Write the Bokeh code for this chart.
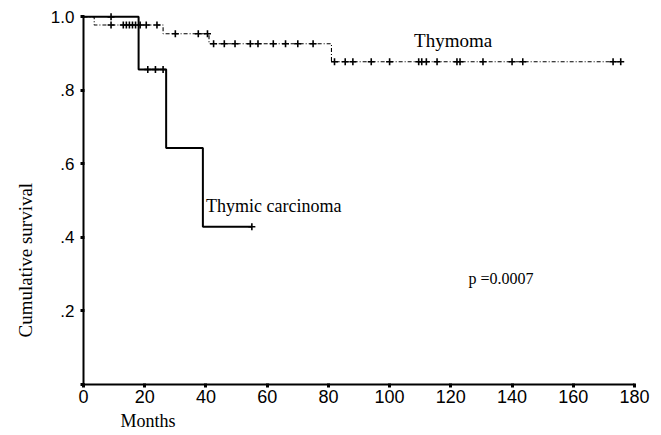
import numpy as np
from bokeh.plotting import figure
from bokeh.models import Label, FixedTicker, Range1d, Title
from bokeh.embed import file_html
from bokeh.resources import INLINE

# Kaplan-Meier curves: step start times (months) and survival level from that time on
carcinoma_t = [0, 18, 27, 39, 55]
carcinoma_s = [1.0, 0.857, 0.643, 0.429, 0.429]
carcinoma_censor_t = [9, 21, 23.5, 26, 55]

thymoma_t = [0, 3.5, 26, 41, 81, 175.5]
thymoma_s = [1.0, 0.978, 0.954, 0.927, 0.878, 0.878]
thymoma_censor_t = [9, 13, 14, 15, 16, 17, 18.5, 20.5, 24,
                    30, 37.5, 40.5,
                    42.5, 46, 49.5, 54.5, 57, 62, 66, 70, 75,
                    82, 85.5, 88, 94, 100, 109.5, 110.5, 112, 115.5,
                    122, 123, 130.5, 140, 143.5, 173, 175.5]

x_ticks = [0, 20, 40, 60, 80, 100, 120, 140, 160, 180]
y_ticks = [0.0, 0.2, 0.4, 0.6, 0.8, 1.0]
y_tick_labels = ["", ".2", ".4", ".6", ".8", "1.0"]

label_thymoma = "Thymoma"
label_carcinoma = "Thymic carcinoma"
p_value_text = "p =0.0007"
x_title = "Months"
y_title = "Cumulative survival"

SERIF = "Liberation Serif"
SANS = "Liberation Sans"


def survival_at(times, levels, t):
    idx = np.searchsorted(np.asarray(times), np.asarray(t), side="right") - 1
    return list(np.asarray(levels)[idx])


p = figure(width=661, height=435, output_backend="svg", toolbar_location=None,
           x_range=Range1d(0, 180), y_range=Range1d(0, 1.02),
           min_border_left=83, min_border_right=27,
           min_border_top=9, min_border_bottom=51)
p.outline_line_color = None
p.xgrid.visible = False
p.ygrid.visible = False
p.background_fill_color = "white"
p.border_fill_color = "white"

# axes
for ax in (p.xaxis[0], p.yaxis[0]):
    ax.axis_line_width = 2
    ax.axis_line_color = "black"
    ax.major_tick_line_width = 3
    ax.major_tick_line_color = "black"
    ax.major_tick_in = 1
    ax.major_tick_out = 3
    ax.minor_tick_line_color = None
    ax.major_label_text_font = SANS
    ax.major_label_text_color = "black"

p.xaxis.ticker = FixedTicker(ticks=x_ticks)
p.xaxis.major_label_text_font_size = "18px"
p.xaxis.major_label_standoff = 2

p.yaxis.ticker = FixedTicker(ticks=y_ticks)
p.yaxis.bounds = (0, 1)
p.yaxis.major_label_overrides = {v: s for v, s in zip(y_ticks, y_tick_labels)}
p.yaxis.major_label_text_font_size = "17px"
p.yaxis.major_label_standoff = 6

# axis titles, anchored near the left / bottom ends of the frame
p.add_layout(Title(text=x_title, align="left", offset=37, text_font=SERIF,
                   text_font_style="normal", text_font_size="18px",
                   text_color="black", standoff=7), "below")
p.add_layout(Title(text=y_title, align="left", offset=47, text_font=SERIF,
                   text_font_style="normal", text_font_size="19px",
                   text_color="black", standoff=23), "left")

# thymoma: fine dash-dot step curve with censor crosses
p.step(thymoma_t, thymoma_s, mode="after", line_color="black",
       line_width=1.1, line_dash="4 2 1 2")
p.scatter(thymoma_censor_t, survival_at(thymoma_t, thymoma_s, thymoma_censor_t),
          marker="cross", size=7, line_color="black", line_width=1.6)

# thymic carcinoma: solid step curve with censor crosses
p.step(carcinoma_t, carcinoma_s, mode="after", line_color="black", line_width=2)
p.scatter(carcinoma_censor_t, survival_at(carcinoma_t, carcinoma_s, carcinoma_censor_t),
          marker="cross", size=7, line_color="black", line_width=1.6)

# curve labels and test result
p.add_layout(Label(x=108, y=0.935, text=label_thymoma, text_font=SERIF,
                   text_font_size="19px", text_baseline="middle", text_color="black"))
p.add_layout(Label(x=40, y=0.486, text=label_carcinoma, text_font=SERIF,
                   text_font_size="18px", text_baseline="middle", text_color="black"))
p.add_layout(Label(x=125.8, y=0.288, text=p_value_text, text_font=SERIF,
                   text_font_size="16px", text_baseline="middle", text_color="black"))

open("out.html", "w").write(file_html(p, INLINE))
